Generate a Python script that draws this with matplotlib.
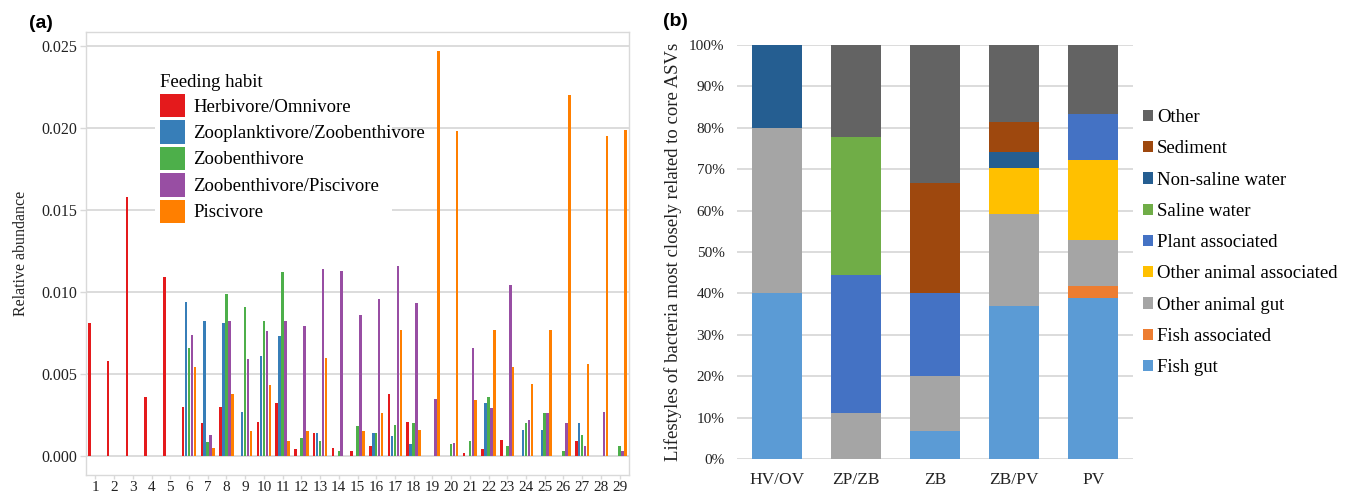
import matplotlib
matplotlib.use("Agg")
import matplotlib.pyplot as plt
from matplotlib.patches import Patch, Rectangle
import numpy as np

plt.rcParams['font.family'] = ['Liberation Serif', 'DejaVu Serif']

# ---------------- Panel (a) data ----------------
groups = [str(i) for i in range(1, 30)]
herbivore = [0.0081, 0.0058, 0.0158, 0.0036, 0.0109, 0.0030, 0.0020, 0.0030, 0.0, 0.0021,
             0.0032, 0.0004, 0.0014, 0.0005, 0.0003, 0.0006, 0.0038, 0.0021, 0.0, 0.0,
             0.0002, 0.0004, 0.0010, 0.0, 0.0, 0.0, 0.0009, 0.0, 0.0]
zooplank = [0.0, 0.0, 0.0, 0.0, 0.0, 0.0094, 0.0082, 0.0081, 0.0027, 0.0061,
            0.0073, 0.0, 0.0014, 0.0, 0.0, 0.0014, 0.0012, 0.0007, 0.0, 0.0,
            0.0, 0.0032, 0.0, 0.0016, 0.0016, 0.0, 0.0020, 0.0, 0.0]
zoobenth = [0.0, 0.0, 0.0, 0.0, 0.0, 0.0066, 0.00085, 0.0099, 0.0091, 0.0082,
            0.0112, 0.0011, 0.0009, 0.0003, 0.0018, 0.0014, 0.0019, 0.0020, 0.0, 0.0007,
            0.0009, 0.0036, 0.0006, 0.0020, 0.0026, 0.0003, 0.0013, 0.0, 0.0006]
zoob_pisc = [0.0, 0.0, 0.0, 0.0, 0.0, 0.0074, 0.0013, 0.0082, 0.0059, 0.0076,
             0.0082, 0.0079, 0.0114, 0.0113, 0.0086, 0.0096, 0.0116, 0.0093, 0.0035, 0.0008,
             0.0066, 0.0029, 0.0104, 0.0022, 0.0026, 0.0020, 0.0006, 0.0027, 0.0003]
piscivore = [0.0, 0.0, 0.0, 0.0, 0.0, 0.0054, 0.0005, 0.0038, 0.0015, 0.0043,
             0.0009, 0.0015, 0.0060, 0.0, 0.0015, 0.0026, 0.0077, 0.0016, 0.0247, 0.0198,
             0.0034, 0.0077, 0.0054, 0.0044, 0.0077, 0.0220, 0.0056, 0.0195, 0.0199]
habit_labels = ['Herbivore/Omnivore', 'Zooplanktivore/Zoobenthivore', 'Zoobenthivore',
                'Zoobenthivore/Piscivore', 'Piscivore']
habit_colors = ['#E41A1C', '#377EB8', '#4DAF4A', '#984EA3', '#FF7F00']

# ---------------- Panel (b) data ----------------
diet_groups = ['HV/OV', 'ZP/ZB', 'ZB', 'ZB/PV', 'PV']
fish_gut = [40.0, 0.0, 6.67, 37.04, 38.89]
fish_assoc = [0.0, 0.0, 0.0, 0.0, 2.78]
other_gut = [40.0, 11.11, 13.33, 22.22, 11.11]
other_assoc = [0.0, 0.0, 0.0, 11.11, 19.44]
plant_assoc = [0.0, 33.33, 20.0, 0.0, 11.11]
saline = [0.0, 33.33, 0.0, 0.0, 0.0]
non_saline = [20.0, 0.0, 0.0, 3.70, 0.0]
sediment = [0.0, 0.0, 26.67, 7.41, 0.0]
other = [0.0, 22.22, 33.33, 18.52, 16.67]
life_labels = ['Fish gut', 'Fish associated', 'Other animal gut', 'Other animal associated',
               'Plant associated', 'Saline water', 'Non-saline water', 'Sediment', 'Other']
life_colors = ['#5B9BD5', '#ED7D31', '#A5A5A5', '#FFC000', '#4472C4', '#70AD47',
               '#255E91', '#9E480E', '#636363']

W, H = 1354, 496
fig = plt.figure(figsize=(W / 100, H / 100), dpi=100)

grid_c = '#D9D9D9'

# ---------------- Panel (a) ----------------
ax1 = fig.add_axes([86 / W, 1 - 475 / H, (629 - 86) / W, (475 - 32) / H])
x = np.arange(1, 30)
series_a = [herbivore, zooplank, zoobenth, zoob_pisc, piscivore]
step = 0.158
bw = 0.135
for i, (vals, col) in enumerate(zip(series_a, habit_colors)):
    ax1.bar(x + (i - 2) * step, vals, width=bw, color=col, linewidth=0, zorder=3)
ax1.set_xlim(0.5, 29.5)
ax1.set_ylim(-0.00116, 0.02585)
ax1.set_yticks([0.0, 0.005, 0.010, 0.015, 0.020, 0.025])
ax1.set_yticklabels(['0.000', '0.005', '0.010', '0.015', '0.020', '0.025'])
ax1.set_xticks(x)
ax1.set_xticklabels(groups)
ax1.yaxis.grid(True, color=grid_c, lw=1.3, zorder=0)
ax1.set_axisbelow(True)
for s in ax1.spines.values():
    s.set_color(grid_c)
    s.set_linewidth(1.0)
ax1.tick_params(axis='y', colors=grid_c, labelcolor='#222222', labelsize=11.5,
                length=4, width=1.0, pad=2)
ax1.tick_params(axis='x', colors=grid_c, labelcolor='#222222', labelsize=11,
                length=3, width=1.0, pad=1)
ax1.set_ylabel('Relative abundance', fontsize=11.5, color='#222222', labelpad=9)

# white legend background (Excel-style legend area hiding gridlines)
ax1.add_patch(Rectangle(((155 - 86) / 543, (475 - 230) / 443), (392 - 155) / 543,
                        (230 - 58) / 443, transform=ax1.transAxes, facecolor='white',
                        edgecolor='none', zorder=1))

handles_a = [Patch(facecolor=c, edgecolor='none') for c in habit_colors]
leg1 = ax1.legend(handles_a, habit_labels, title='Feeding habit', loc='upper left',
                  bbox_to_anchor=((154 - 86) / 543, (475 - 68) / 443),
                  fontsize=13.5, title_fontsize=13.5, frameon=False,
                  handlelength=1.35, handleheight=1.55,
                  labelspacing=0.16, handletextpad=0.45, borderpad=0.3, borderaxespad=0,
                  alignment='left')
leg1.set_zorder(5)

fig.text(41 / W, 1 - 24 / H, '(a)', fontsize=14, fontweight='bold',
         family='Liberation Sans', ha='center', va='center')

# ---------------- Panel (b) ----------------
ax2 = fig.add_axes([737 / W, 1 - 459 / H, (1133 - 737) / W, (459 - 45) / H])
xb = np.arange(len(diet_groups))
series_b = [fish_gut, fish_assoc, other_gut, other_assoc, plant_assoc, saline,
            non_saline, sediment, other]
bottom = np.zeros(len(diet_groups))
for vals, col in zip(series_b, life_colors):
    v = np.array(vals) / 100.0
    ax2.bar(xb, v, bottom=bottom, width=0.63, color=col, linewidth=0, zorder=3)
    bottom += v
ax2.set_xlim(-0.5, 4.5)
ax2.set_ylim(0, 1.0)
yt = np.arange(0, 1.01, 0.1)
ax2.set_yticks(yt)
ax2.set_yticklabels([f'{int(round(t * 100))}%' for t in yt])
ax2.set_xticks(xb)
ax2.set_xticklabels(diet_groups)
ax2.yaxis.grid(True, color=grid_c, lw=1.3, zorder=0)
ax2.set_axisbelow(True)
for s in ax2.spines.values():
    s.set_visible(False)
ax2.tick_params(axis='y', length=0, labelsize=11, labelcolor='#222222', pad=9)
ax2.tick_params(axis='x', length=0, labelsize=12.5, labelcolor='#222222', pad=9)
ax2.set_ylabel('Lifestyles of bacteria most closely related to core ASVs',
               fontsize=13.5, color='#222222', labelpad=5)

handles_b = [Patch(facecolor=c, edgecolor='none') for c in life_colors][::-1]
leg2 = ax2.legend(handles_b, life_labels[::-1], loc='upper left',
                  bbox_to_anchor=(1.025, 0.845), fontsize=13.5, frameon=False,
                  handlelength=0.55, handleheight=0.55, handletextpad=0.2,
                  labelspacing=0.76, borderaxespad=0, borderpad=0)

fig.text(675 / W, 1 - 21 / H, '(b)', fontsize=14, fontweight='bold',
         family='Liberation Sans', ha='center', va='center')

fig.savefig('out.png', dpi=100)
